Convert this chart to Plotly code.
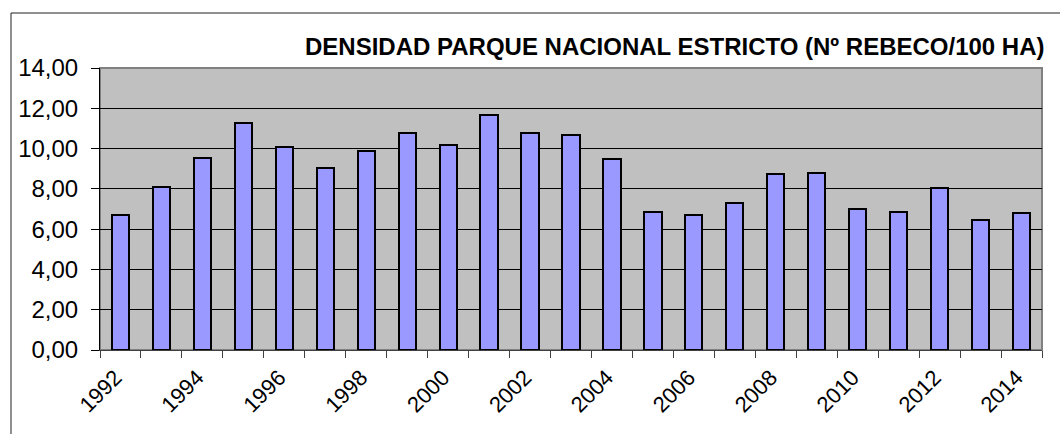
import plotly.graph_objects as go

years = list(range(1992, 2015))
density = [6.70, 8.08, 9.52, 11.29, 10.08, 9.02, 9.90, 10.76, 10.16, 11.68, 10.79, 10.68,
           9.47, 6.85, 6.70, 7.31, 8.74, 8.79, 6.98, 6.87, 8.03, 6.45, 6.82]
title_text = "DENSIDAD PARQUE NACIONAL ESTRICTO (Nº REBECO/100 HA)"
y_ticks = [0, 2, 4, 6, 8, 10, 12, 14]
x_label_years = [y for y in years if y % 2 == 0]

W, H = 1060, 434
L, R, T, B = 100, 18, 68, 84
pw, ph = W - L - R, H - T - B

fig = go.Figure()
fig.add_trace(go.Bar(
    x=years, y=density, width=0.42,
    marker=dict(color="#9999FF", line=dict(color="black", width=2)),
    hoverinfo="x+y",
))

font_family = "Liberation Sans, Arial, sans-serif"

fig.update_layout(
    width=W, height=H,
    margin=dict(l=L, r=R, t=T, b=B, autoexpand=False),
    paper_bgcolor="white",
    plot_bgcolor="#C0C0C0",
    separators=",.",
    showlegend=False,
    font=dict(family=font_family, color="black", size=23),
    title=dict(
        text="<b>" + title_text + "</b>",
        font=dict(family=font_family, size=24, color="black"),
        xref="paper", x=(305 - L) / pw, xanchor="left",
        yref="container", y=1 - 47 / H, yanchor="middle",
    ),
    bargap=0,
)

fig.update_xaxes(
    range=[years[0] - 0.5, years[-1] + 0.5],
    tickmode="array", tickvals=x_label_years, ticktext=[str(v) for v in x_label_years],
    ticks="outside", ticklen=0, tickangle=-45,
    tickfont=dict(size=22),
    ticklabelstandoff=5, ticklabelshift=-5,
    showgrid=False, zeroline=False,
    showline=True, linecolor="#404040", linewidth=1,
    minor=dict(tickmode="linear", tick0=years[0] - 0.5, dtick=1,
               ticks="outside", ticklen=7, tickcolor="#404040", tickwidth=1, showgrid=False),
)
fig.update_yaxes(
    range=[0, 14], tickmode="array", tickvals=y_ticks,
    tickformat=".2f",
    ticks="outside", ticklen=8, tickcolor="black", tickwidth=1,
    ticklabelstandoff=8,
    showgrid=True, gridcolor="black", gridwidth=1,
    zeroline=False,
    showline=True, linecolor="black", linewidth=1,
    tickfont=dict(size=24),
)

# plot area border (top/right gray)
fig.add_shape(type="rect", xref="paper", yref="paper", x0=0, y0=0, x1=1, y1=1,
              line=dict(color="#808080", width=2), layer="below")
# outer chart border
fig.add_shape(type="rect", xref="paper", yref="paper",
              x0=(11 - L) / pw, y0=-(B + 40) / ph, x1=1 + 60 / pw, y1=(T + ph - 13) / ph,
              line=dict(color="#202020", width=1), fillcolor="rgba(0,0,0,0)", layer="above")

fig.write_html("out.html",
               config={"displayModeBar": False},
               post_script="document.body.style.margin='0px';document.body.style.padding='0px';")
